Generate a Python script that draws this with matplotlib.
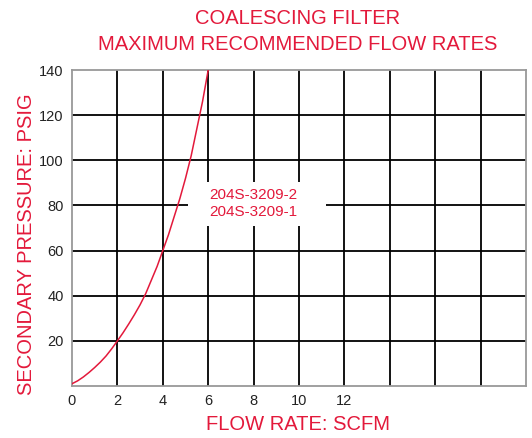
import matplotlib.pyplot as plt
from matplotlib.patches import Rectangle

# данные кривой
flow = [0, 0.25, 0.5, 0.75, 1.0, 1.25, 1.5, 1.75, 2.0, 2.25, 2.5, 2.75, 3.0,
        3.25, 3.5, 3.75, 4.0, 4.25, 4.5, 4.75, 5.0, 5.25, 5.5, 5.75, 6.0]
pressure = [1, 2.3, 4, 6, 8.2, 10.6, 13.3, 16.5, 20, 23.6, 27.5, 31.6, 36,
            41, 47, 53, 60, 67, 75, 83, 92, 102, 114, 126, 140]

x_ticks = [0, 2, 4, 6, 8, 10, 12]
y_ticks = [20, 40, 60, 80, 100, 120, 140]
series_labels = ['204S-3209-2', '204S-3209-1']

red = '#e3193b'
font = 'Liberation Sans'

fig = plt.figure(figsize=(5.32, 4.38), dpi=100)
ax = fig.add_axes([72 / 532, 1 - 386 / 438, 454 / 532, 316 / 438])

ax.set_xlim(0, 20)
ax.set_ylim(0, 140)

# сетка
for gx in range(2, 20, 2):
    ax.axvline(gx, color='black', lw=1.3, zorder=1)
for gy in y_ticks[:-1]:
    ax.axhline(gy, color='black', lw=1.3, zorder=1)

ax.plot(flow, pressure, color=red, lw=1.1, zorder=3)

# белая плашка с подписями
ax.add_patch(Rectangle((5.11, 70.9), 6.08, 19.5, fc='white', ec='none', zorder=2))
ax.text(7.97, 81.0, '\n'.join(series_labels), color=red, fontsize=11,
        family=font, ha='center', va='center', linespacing=1.25, zorder=4)

ax.set_xticks(x_ticks)
ax.set_yticks(y_ticks)
ax.tick_params(length=0, labelsize=10.5, pad=6, labelcolor='#222222')
for lab in ax.get_xticklabels() + ax.get_yticklabels():
    lab.set_family(font)
for s in ax.spines.values():
    s.set_color('#999999')
    s.set_linewidth(1.3)

fig.text(298 / 532, 1 - 18 / 438, 'COALESCING FILTER', color=red, fontsize=14.5,
         family=font, ha='center', va='center')
fig.text(298 / 532, 1 - 45 / 438, 'MAXIMUM RECOMMENDED FLOW RATES', color=red,
         fontsize=14.5, family=font, ha='center', va='center')
fig.text(298 / 532, 1 - 425 / 438, 'FLOW RATE: SCFM', color=red, fontsize=14.5,
         family=font, ha='center', va='center')
fig.text(27 / 532, 1 - 244 / 438, 'SECONDARY PRESSURE: PSIG', color=red,
         fontsize=14.5, family=font, ha='center', va='center', rotation=90)

fig.savefig('out.png', dpi=100)
